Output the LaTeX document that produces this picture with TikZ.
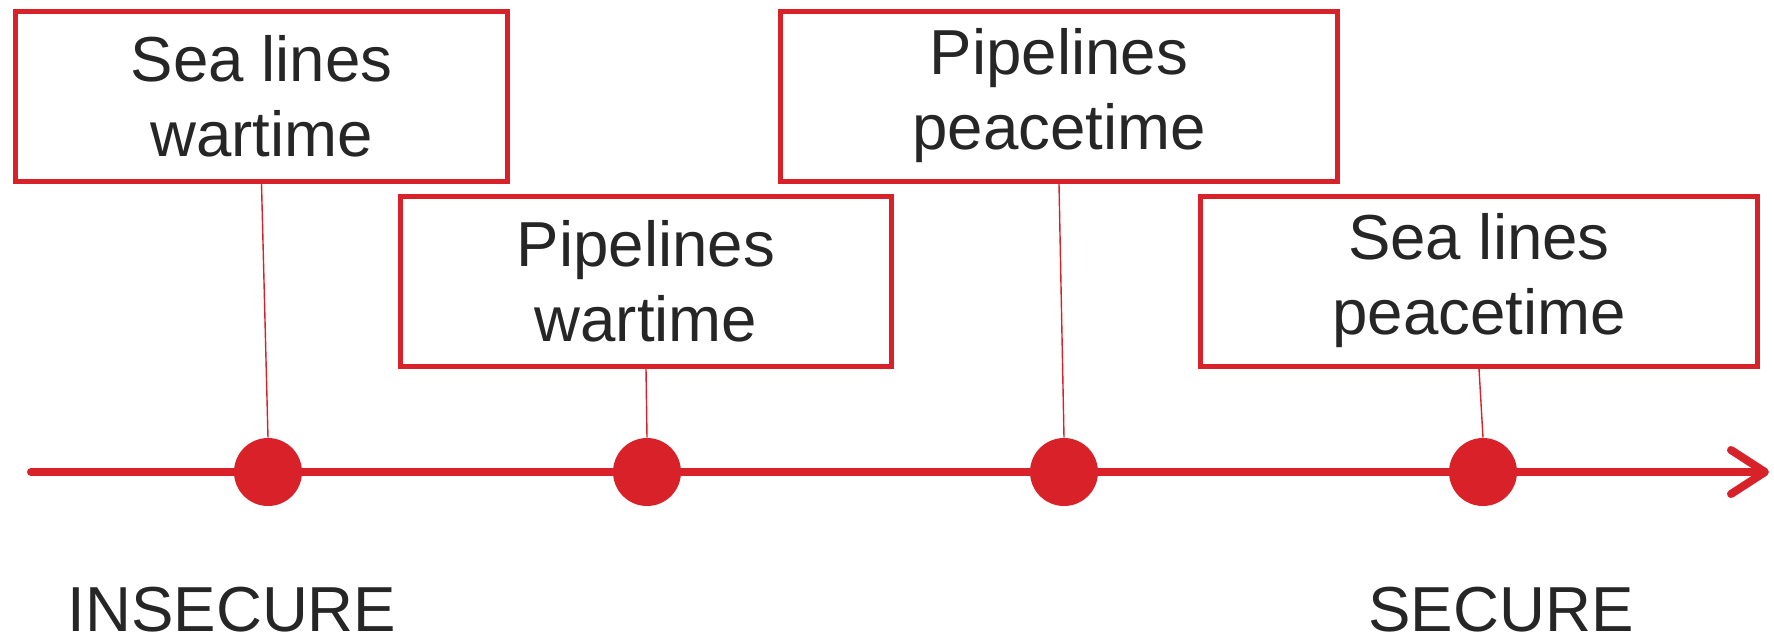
\documentclass[tikz,border=0pt]{standalone}
\usepackage{fontspec}
\setmainfont{Liberation Sans}
\usetikzlibrary{arrows.meta}
\definecolor{redone}{RGB}{217,33,42}
\definecolor{ink}{RGB}{38,38,38}
\begin{document}
\begin{tikzpicture}[x=0.5pt,y=-0.5pt,
  labelfont/.style={font=\fontsize{31.8}{37.5}\selectfont, text=ink},
  box/.style={draw=redone, line width=2.5pt, minimum width=#1, minimum height=85pt,
    inner sep=0pt, align=center, labelfont},
  dot/.style={circle, fill=redone, minimum size=34pt, inner sep=0pt},
  link/.style={draw=redone, line width=0.7pt},
  axis/.style={draw=redone, line width=4pt, line cap=round,
    -{Straight Barb[length=17pt,width=22pt,round]}}]
\useasboundingbox (0,0) rectangle (1774,639);
% timeline
\coordinate (a0) at (31,472);
\coordinate (a1) at (1769,472);
\draw[axis] (a0) -- (a1);
% dots
\node[dot] (d1) at (268,472) {};
\node[dot] (d2) at (647,472) {};
\node[dot] (d3) at (1064,472) {};
\node[dot] (d4) at (1483,472) {};
% boxes
\node[box=246pt] (b1) at (261.5,96) {Sea lines\\wartime};
\node[box=245.5pt] (b2) at (646,281) {Pipelines\\wartime};
\node[box=278.5pt] (b3) at (1059,96) {Pipelines\\peacetime};
\node[box=278.5pt] (b4) at (1479,281) {Sea lines\\peacetime};
% links
\draw[link] (b1.south) -- (d1.north);
\draw[link] (b2.south) -- (d2.north);
\draw[link] (b3.south) -- (d3.north);
\draw[link] (b4.south) -- (d4.north);
% end labels
\node[labelfont, anchor=base, inner sep=0pt] (ins) at (232,631) {INSECURE};
\node[labelfont, anchor=base, inner sep=0pt] (sec) at (1501,631) {SECURE};
\end{tikzpicture}
\end{document}
